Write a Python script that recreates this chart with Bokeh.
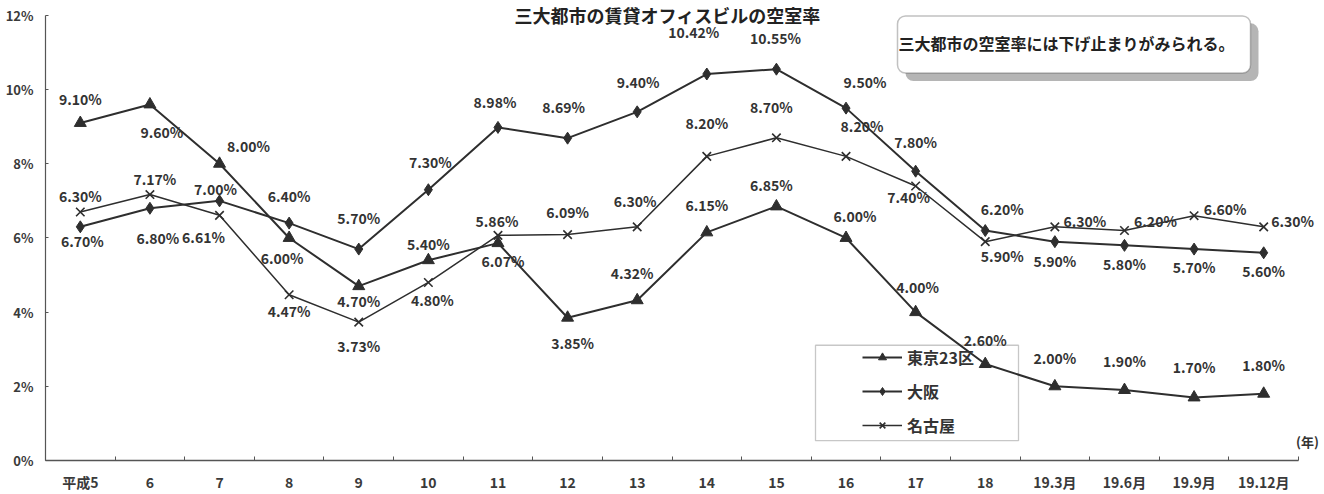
from bokeh.plotting import figure
from bokeh.models import (ColumnDataSource, LabelSet, Label, BoxAnnotation, Legend,
                          LegendItem, FixedTicker, Range1d)
from bokeh.core.properties import value
from bokeh.embed import file_html
from bokeh.resources import INLINE

# ---------------- data ----------------
categories = ["平成5", "6", "7", "8", "9", "10", "11", "12", "13", "14", "15", "16",
              "17", "18", "19.3月", "19.6月", "19.9月", "19.12月"]
tokyo = [9.10, 9.60, 8.00, 6.00, 4.70, 5.40, 5.86, 3.85, 4.32, 6.15, 6.85, 6.00,
         4.00, 2.60, 2.00, 1.90, 1.70, 1.80]
osaka = [6.30, 6.80, 7.00, 6.40, 5.70, 7.30, 8.98, 8.69, 9.40, 10.42, 10.55, 9.50,
         7.80, 6.20, 5.90, 5.80, 5.70, 5.60]
nagoya = [6.70, 7.17, 6.61, 4.47, 3.73, 4.80, 6.07, 6.09, 6.30, 8.20, 8.70, 8.20,
          7.40, 5.90, 6.30, 6.20, 6.60, 6.30]
series_names = ["東京23区", "大阪", "名古屋"]
y_ticks = [0, 2, 4, 6, 8, 10, 12]
y_tick_labels = ["0%", "2%", "4%", "6%", "8%", "10%", "12%"]
title_text = "三大都市の賃貸オフィスビルの空室率"
note_text = "三大都市の空室率には下げ止まりがみられる。"
unit_text = "(年)"

# label placement (pixels: dx right, dy down) -- style only
tokyo_off = [(0, -24), (12, 28), (29, -18), (-7, 20), (0, 15), (0, -16), (-1, -22), (5, 25),
             (-5, -27), (0, -27), (-5, -21), (9, -22), (2, -25), (0, -24), (0, -28), (0, -29),
             (0, -30), (0, -29)]
osaka_off = [(0, -31), (8, 30), (-4, -12), (0, -27), (0, -31), (2, -28), (-3, -25), (-4, -31),
             (1, -30), (-13, -42), (-1, -31), (19, -26), (0, -29), (17, -22), (0, 19), (0, 19),
             (0, 18), (0, 18)]
nagoya_off = [(2, 29), (5, -16), (-16, 22), (0, 16), (0, 24), (4, 18), (5, 26), (0, -23),
              (-2, -26), (0, -33), (-5, -31), (16, -30), (-7, 11), (17, 14), (30, -6), (31, -10),
              (31, -7), (29, -6)]

# ---------------- layout ----------------
W, H = 1324, 494
FL, FR, FT, FB = 45, 1298, 15, 463          # axis extents in pixels
n = len(categories)
XPX = (FR - FL) / n
YPX = (FB - FT) / 12.0


def px_x(px):
    return (px - FL) / XPX - 0.5


def px_y(py):
    return (FB - py) / YPX


p = figure(width=W, height=H, output_backend="svg", toolbar_location=None,
           x_range=Range1d(-0.5, px_x(W)), y_range=Range1d(0, px_y(0)),
           min_border_left=FL, min_border_right=0, min_border_top=0,
           min_border_bottom=H - FB)
p.outline_line_color = None
p.background_fill_color = "white"
p.border_fill_color = "white"
p.xgrid.grid_line_color = None
p.ygrid.grid_line_color = None

INK = "#2e2e2e"
NUMFONT = "Noto Sans CJK JP"
JPFONT = "Noto Sans CJK JP"

# y axis
p.yaxis.bounds = (0, 12)
p.yaxis.ticker = FixedTicker(ticks=y_ticks)
p.yaxis.major_label_overrides = {t: l for t, l in zip(y_ticks, y_tick_labels)}
p.yaxis.major_tick_in = 3
p.yaxis.major_tick_out = 0
p.yaxis.minor_tick_line_color = None
p.yaxis.axis_line_color = "#555555"
p.yaxis.axis_line_width = 1.2
p.yaxis.major_tick_line_color = "#555555"
p.yaxis.major_label_text_font = NUMFONT
p.yaxis.major_label_text_font_style = "bold"
p.yaxis.major_label_text_font_size = "13px"
p.yaxis.major_label_text_color = "#3a3a3a"
p.yaxis.major_label_standoff = 12

# x axis
p.xaxis.bounds = (-0.5, n - 0.5)
p.xaxis.ticker = FixedTicker(ticks=list(range(n)), minor_ticks=[i + 0.5 for i in range(-1, n)])
p.xaxis.major_label_overrides = {i: c for i, c in enumerate(categories)}
p.xaxis.major_tick_in = 0
p.xaxis.major_tick_out = 0
p.xaxis.minor_tick_in = 4
p.xaxis.minor_tick_out = 0
p.xaxis.minor_tick_line_color = "#555555"
p.xaxis.axis_line_color = "#555555"
p.xaxis.axis_line_width = 1.5
p.xaxis.major_label_text_font = JPFONT
p.xaxis.major_label_text_font_style = "bold"
p.xaxis.major_label_text_font_size = "14px"
p.xaxis.major_label_text_color = "#3a3a3a"
p.xaxis.major_label_standoff = 11

xs = list(range(n))

# legend frame (transparent, under lines)
p.add_layout(BoxAnnotation(left=px_x(815), right=px_x(1018), top=px_y(347), bottom=px_y(443),
                           fill_color=None, line_color="#444444", line_width=1.3,
                           level="underlay"))

specs = [
    (tokyo, "triangle", 12, 2.0, tokyo_off),
    (osaka, "diamond", 12, 2.0, osaka_off),
    (nagoya, "x", 12, 1.5, nagoya_off),
]
items = []
for name, (vals, marker, size, lw, offs) in zip(series_names, specs):
    lr = p.line(xs, vals, line_color=INK, line_width=lw)
    sr = p.scatter(xs, vals, marker=marker, size=size, fill_color=INK,
                   line_color=INK, line_width=1.6 if marker == "x" else 1)
    items.append(LegendItem(label=name, renderers=[lr, sr]))
    src = ColumnDataSource(dict(
        x=xs, y=vals, text=[f"{v:.2f}%" for v in vals],
        dx=[o[0] for o in offs], dy=[-o[1] for o in offs]))
    p.add_layout(LabelSet(x="x", y="y", text="text", x_offset="dx", y_offset="dy",
                          source=src, text_align="center", text_baseline="middle",
                          text_font=value(NUMFONT), text_font_style="bold",
                          text_font_size="14px", text_color="#333333"))

legend = Legend(items=items, location=(862 - FL, FB - 440), padding=0, margin=0,
                spacing=10, glyph_width=40, glyph_height=20, label_height=20,
                label_standoff=5, border_line_color=None, background_fill_alpha=0,
                label_text_font=JPFONT, label_text_font_size="16px",
                label_text_font_style="bold", label_text_color="#333333")
p.add_layout(legend)

# note box with shadow
p.add_layout(BoxAnnotation(left=px_x(905), right=px_x(1258), top=px_y(23), bottom=px_y(81),
                           fill_color="#b5b5b5", fill_alpha=1, line_color=None,
                           border_radius=8))
p.add_layout(BoxAnnotation(left=px_x(897), right=px_x(1250), top=px_y(15.5), bottom=px_y(73),
                           fill_color="white", fill_alpha=1, line_color="#333333",
                           line_width=1.5, border_radius=8))
p.add_layout(Label(x=px_x(1066), y=px_y(43), text=note_text, text_align="center",
                   text_baseline="middle", text_font=JPFONT, text_font_size="16px",
                   text_font_style="bold", text_color="#222222"))

# title
p.add_layout(Label(x=px_x(667), y=px_y(15), text=title_text, text_align="center",
                   text_baseline="middle", text_font=JPFONT, text_font_size="18px",
                   text_font_style="bold", text_color="#222222"))

# unit
p.add_layout(Label(x=px_x(1307), y=px_y(444), text=unit_text, text_align="center",
                   text_baseline="middle", text_font=JPFONT, text_font_size="13px",
                   text_font_style="bold", text_color="#333333"))

open("out.html", "w").write(file_html(p, INLINE))
